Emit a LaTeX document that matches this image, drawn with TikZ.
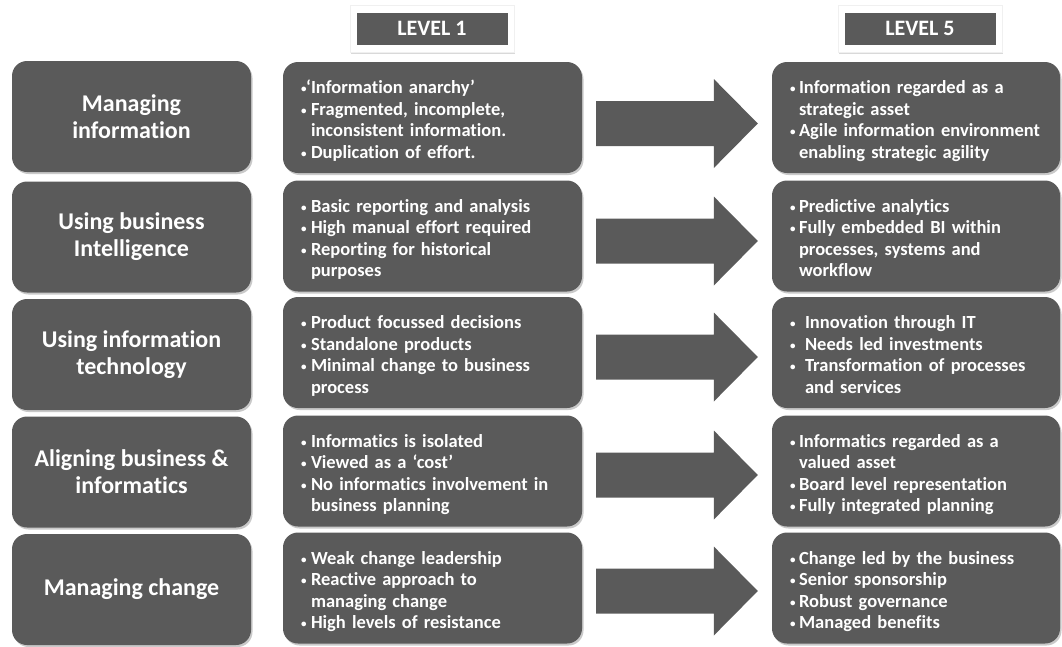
\documentclass[tikz,border=0pt]{standalone}
\usepackage{fontspec}
\setmainfont{Carlito}[Ligatures=NoCommon]
\usetikzlibrary{shadows,calc}
\definecolor{boxgray}{HTML}{5A5A5A}
\newcommand\bul{\raisebox{0.1ex}{\fontsize{11}{11}\selectfont\textbullet}}
% bullet list: optional width of the bullet column; set slightly below centre
\newsavebox\listbox
\newenvironment{blist}[1][10pt]{\begin{lrbox}{\listbox}\begin{tabular}{@{}p{#1}@{}l@{}}}%
  {\end{tabular}\end{lrbox}\noindent\raisebox{-4pt}[\ht\listbox][\dp\listbox]{\usebox\listbox}}
\tikzset{
  softshadow/.style={drop shadow={shadow xshift=1.5pt,shadow yshift=-2pt,opacity=0.3,fill=black!70}},
  topic/.style={fill=boxgray,rounded corners=15pt,text=white,align=center,inner sep=0pt,
    minimum width=239pt,minimum height=111pt,softshadow,
    font=\bfseries\fontsize{24}{27}\selectfont},
  detail/.style={fill=boxgray,rounded corners=15pt,text=white,align=left,inner xsep=18pt,inner ysep=0pt,
    minimum height=111pt,softshadow,font=\bfseries\fontsize{18.5}{21.5}\selectfont},
  midbox/.style={detail,text width=263pt},
  rightbox/.style={detail,text width=252pt},
  hdrframe/.style={fill=white,draw=black!6,minimum width=164pt,minimum height=47pt,
    drop shadow={shadow xshift=1pt,shadow yshift=-2pt,opacity=0.25,fill=black!60}},
  hdr/.style={fill=boxgray,text=white,minimum width=151pt,minimum height=32pt,inner sep=0pt,
    font=\bfseries\fontsize{22}{24}\selectfont},
  blockarrow/.style={fill=boxgray}
}
\begin{document}
\begin{tikzpicture}[x=1pt,y=-1pt]
\useasboundingbox (0,0) rectangle (1062,646);

% column headers
\node[hdrframe] (f1) at (432,28.5) {};
\node[hdr] (h1) at (f1.center) {LEVEL 1};
\node[hdrframe] (f5) at (920,28.5) {};
\node[hdr] (h5) at (f5.center) {LEVEL 5};

% topics
\node[topic] (t1) at (131.5,116.5) {Managing\\information};
\node[topic] (t2) at (131.5,237) {Using business\\Intelligence};
\node[topic] (t3) at (131.5,354.5) {Using information\\technology};
\node[topic] (t4) at (131.5,472) {Aligning business \&\\informatics};
\node[topic] (t5) at (131.5,589.5) {Managing change};

% level 1 descriptions
\node[midbox] (m1) at (432.5,117.5) {\begin{blist}
\bul & \llap{‘}Information anarchy’\\
\bul & Fragmented, incomplete,\\
 & inconsistent information.\\
\bul & Duplication of effort.
\end{blist}};
\node[midbox] (m2) at (432.5,236) {\begin{blist}
\bul & Basic reporting and analysis\\
\bul & High manual effort required\\
\bul & Reporting for historical\\
 & purposes
\end{blist}};
\node[midbox] (m3) at (432.5,352.5) {\begin{blist}
\bul & Product focussed decisions\\
\bul & Standalone products\\
\bul & Minimal change to business\\
 & process
\end{blist}};
\node[midbox] (m4) at (432.5,471) {\begin{blist}
\bul & Informatics is isolated\\
\bul & Viewed as a ‘cost’\\
\bul & No informatics involvement in\\
 & business planning
\end{blist}};
\node[midbox] (m5) at (432.5,588) {\begin{blist}
\bul & Weak change leadership\\
\bul & Reactive approach to\\
 & managing change\\
\bul & High levels of resistance
\end{blist}};

% level 5 descriptions
\node[rightbox] (r1) at (916,117.5) {\begin{blist}[9pt]
\bul & Information regarded as a\\
 & strategic asset\\
\bul & Agile information environment\\
 & enabling strategic agility
\end{blist}};
\node[rightbox] (r2) at (916,236) {\begin{blist}[9pt]
\bul & Predictive analytics\\
\bul & Fully embedded BI within\\
 & processes, systems and\\
 & workflow
\end{blist}};
\node[rightbox] (r3) at (916,352.5) {\begin{blist}[15pt]
\bul & Innovation through IT\\
\bul & Needs led investments\\
\bul & Transformation of processes\\
 & and services
\end{blist}};
\node[rightbox] (r4) at (916,471) {\begin{blist}[9pt]
\bul & Informatics regarded as a\\
 & valued asset\\
\bul & Board level representation\\
\bul & Fully integrated planning
\end{blist}};
\node[rightbox] (r5) at (916,588) {\begin{blist}[9pt]
\bul & Change led by the business\\
\bul & Senior sponsorship\\
\bul & Robust governance\\
\bul & Managed benefits
\end{blist}};

% block arrows from level 1 to level 5 (each sits a little below its row's centre)
\foreach \i/\dy in {1/6,2/5,3/4.5,4/4,5/3}{
  \coordinate (s\i) at ($(m\i.east)+(14,\dy)$);
  \coordinate (e\i) at ($(r\i.west)+(-14,\dy)$);
  \fill[blockarrow] ($(s\i)+(0,-22.5)$) -- ($(e\i)+(-44,-22.5)$) -- ($(e\i)+(-44,-44.5)$)
    -- (e\i) -- ($(e\i)+(-44,44.5)$) -- ($(e\i)+(-44,22.5)$) -- ($(s\i)+(0,22.5)$) -- cycle;
}
\end{tikzpicture}
\end{document}
